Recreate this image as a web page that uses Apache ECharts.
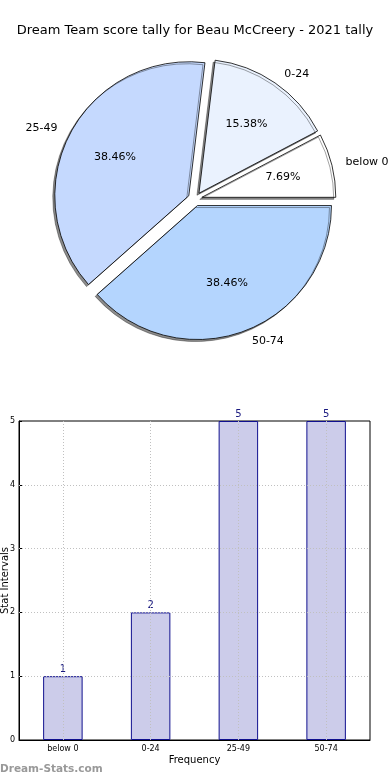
<!DOCTYPE html>
<html>
<head>
<meta charset="utf-8">
<script src="https://cdn.jsdelivr.net/npm/echarts@6/dist/echarts.min.js"></script>
<style>
html,body{margin:0;padding:0;background:#fff;}
#chart{width:390px;height:780px;}
</style>
</head>
<body>
<div id="chart"></div>
<script>
const titleText = 'Dream Team score tally for Beau McCreery - 2021 tally';
const categories = ['below 0', '0-24', '25-49', '50-74'];
const counts = [1, 2, 5, 5];
const sliceColors = ['#ffffff', '#eaf2fe', '#c5d9fe', '#b4d5fe'];
const yTicks = [0, 1, 2, 3, 4, 5];
const yGridValues = [1, 2, 3, 4];

const FONT = 'DejaVu Sans';
const total = counts.reduce((a, b) => a + b, 0);
const chart = echarts.init(document.getElementById('chart'), null, {renderer: 'canvas'});

const pieData = categories.map((c, i) => ({
  name: c, value: counts[i], selected: true,
  itemStyle: {color: sliceColors[i]}
}));
const pieLabelData = categories.map((c, i) => ({
  name: c, value: counts[i], selected: true
}));
const gridLineStyle = {color: '#c0c0c0', type: [1, 2], width: 1};
const gridMarks = categories.map(c => ({xAxis: c}))
  .concat(yGridValues.map(v => ({yAxis: v})));

const option = {
  backgroundColor: '#fff',
  animation: false,
  title: {
    text: titleText, left: 'center', top: 19,
    textStyle: {fontFamily: FONT, fontSize: 13, fontWeight: 'normal', color: '#000'}
  },
  graphic: [{
    type: 'text', left: 0, top: 764,
    style: {text: 'Dream-Stats.com', fontFamily: FONT, fontSize: 10.5, fontWeight: 'bold', fill: '#999'}
  }],
  grid: {
    left: 19, right: 20, top: 421, bottom: 40,
    containLabel: false, outerBoundsMode: 'none',
    show: true, borderColor: '#000', borderWidth: 1, backgroundColor: 'transparent'
  },
  xAxis: {
    type: 'category', data: categories,
    boundaryGap: true,
    name: 'Frequency', nameLocation: 'middle', nameGap: 15, nameMoveOverlap: false,
    nameTextStyle: {fontFamily: FONT, fontSize: 10, color: '#000'},
    axisLine: {lineStyle: {color: '#000', width: 1}},
    axisTick: {show: true, inside: true, alignWithLabel: true, length: 3, lineStyle: {color: '#000'}},
    axisLabel: {fontFamily: FONT, fontSize: 8, color: '#000', margin: 5},
    splitLine: {show: false}
  },
  yAxis: {
    type: 'value', min: 0, max: 5, interval: 1,
    name: 'Stat Intervals', nameLocation: 'middle', nameGap: 9, nameMoveOverlap: false,
    nameTextStyle: {fontFamily: FONT, fontSize: 10, color: '#000'},
    axisLine: {show: true, lineStyle: {color: '#000', width: 1}},
    axisTick: {show: true, inside: true, length: 3, lineStyle: {color: '#000'}},
    axisLabel: {fontFamily: FONT, fontSize: 8, color: '#000', margin: 4,
      formatter: v => yTicks.indexOf(v) >= 0 ? String(v) : ''},
    splitLine: {show: false}
  },
  series: [
    {
      type: 'pie',
      center: [195, 199],
      radius: 134,
      startAngle: 0,
      clockwise: false,
      selectedMode: 'multiple',
      selectedOffset: 7,
      avoidLabelOverlap: false,
      emphasis: {disabled: true},
      itemStyle: {
        borderColor: '#000', borderWidth: 0.8,
        shadowColor: 'rgba(0,0,0,0.45)', shadowBlur: 0, shadowOffsetX: -2, shadowOffsetY: 2
      },
      label: {
        show: true, position: 'outside', formatter: '{b}',
        fontFamily: FONT, fontSize: 11, color: '#000', distanceToLabelLine: 3
      },
      labelLine: {show: false, length: 11, length2: 0},
      data: pieData
    },
    {
      type: 'pie',
      center: [195, 199],
      radius: 161,
      startAngle: 0,
      clockwise: false,
      selectedMode: 'multiple',
      selectedOffset: 7,
      avoidLabelOverlap: false,
      silent: true,
      emphasis: {disabled: true},
      itemStyle: {color: 'rgba(0,0,0,0)', borderWidth: 0},
      label: {
        show: true, position: 'inside',
        formatter: p => (p.value / total * 100).toFixed(2) + '%',
        fontFamily: FONT, fontSize: 11, color: '#000'
      },
      labelLine: {show: false},
      data: pieLabelData
    },
    {
      type: 'bar',
      data: counts,
      barWidth: '45%',
      itemStyle: {color: '#ccccea', borderColor: '#10108f', borderWidth: 1},
      label: {show: true, position: 'top', distance: 2, fontFamily: FONT, fontSize: 10, color: '#1a1a80'},
      markLine: {
        silent: true, symbol: 'none', animation: false,
        label: {show: false},
        emphasis: {disabled: true},
        lineStyle: gridLineStyle,
        data: gridMarks
      }
    }
  ]
};
chart.setOption(option);
</script>
</body>
</html>
